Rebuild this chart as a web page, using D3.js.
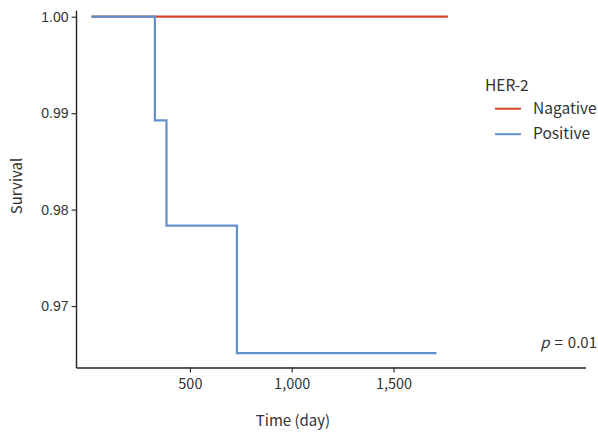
<!DOCTYPE html>
<html><head><meta charset="utf-8">
<script src="https://cdn.jsdelivr.net/npm/d3@7"></script>
<style>body{margin:0;background:#fff}</style>
</head><body>
<svg id="c" width="598" height="433"></svg>
<script>
const negTime = [17, 1767];
const negSurv = [1.0, 1.0];
const posTime = [17, 328, 385, 731, 1711];
const posSurv = [1.0, 0.98925, 0.97834, 0.96512, 0.96512];
const xTicks = [500, 1000, 1500];
const yTicks = [0.97, 0.98, 0.99, 1.00];
const groups = ["Nagative", "Positive"];
const colors = ["#d9442b", "#6290cb"];

const svg = d3.select("#c");
const x = d3.scaleLinear().domain([-57, 2443]).range([76.5, 585.5]);
const y = d3.scaleLinear().domain([0.96363, 1.0]).range([367.5, 16.7]);
const tickFont = "'Liberation Sans', Arial, sans-serif";
const labFont = "'Noto Sans CJK KR', 'Noto Sans', sans-serif";

const xa = svg.append("g").attr("transform", "translate(0,367.5)")
  .call(d3.axisBottom(x).tickValues(xTicks).tickFormat(d3.format(",")).tickSizeInner(5).tickSizeOuter(0).tickPadding(6));
const ya = svg.append("g").attr("transform", "translate(76.5,0)")
  .call(d3.axisLeft(y).tickValues(yTicks).tickFormat(d3.format(".2f")).tickSizeInner(5).tickSizeOuter(0).tickPadding(3));
[xa, ya].forEach(a => {
  a.select(".domain").attr("stroke", "#222").attr("stroke-width", 1.4);
  a.selectAll(".tick line").attr("stroke", "#333").attr("stroke-width", 1.2);
  a.selectAll("text").attr("fill", "#333").style("font-size", "14.5px").style("font-family", labFont);
});
ya.selectAll("text").style("font-family", tickFont).style("font-size", "14px");
ya.select(".domain").attr("d", `M0,${y(1.0)-6}V${367.5+0.7}`);

const line = d3.line().x(d => x(d[0])).y(d => y(d[1])).curve(d3.curveStepAfter);
const series = [d3.zip(negTime, negSurv), d3.zip(posTime, posSurv)];
series.forEach((s, i) => {
  svg.append("path").attr("d", line(s)).attr("fill", "none")
    .attr("stroke", colors[i]).attr("stroke-width", 2.2);
});

svg.append("text").attr("transform", "translate(22,186) rotate(-90)").attr("text-anchor", "middle")
  .style("font-family", labFont).style("font-size", "15px").attr("fill", "#333").text("Survival");
svg.append("text").attr("x", 293).attr("y", 426).attr("text-anchor", "middle")
  .style("font-family", labFont).style("font-size", "15px").attr("fill", "#333").text("Time (day)");

const lg = svg.append("g");
lg.append("text").attr("x", 485).attr("y", 91).style("font-family", labFont).style("font-size", "15.5px")
  .attr("fill", "#333").text("HER-2");
groups.forEach((g, i) => {
  const yy = 108.7 + i * 25.5;
  lg.append("line").attr("x1", 495).attr("x2", 521).attr("y1", yy).attr("y2", yy)
    .attr("stroke", colors[i]).attr("stroke-width", 2);
  lg.append("text").attr("x", 533).attr("y", yy + 5).style("font-family", labFont).style("font-size", "15.5px")
    .attr("fill", "#333").text(g);
});

const pt = svg.append("text").attr("x", 597).attr("y", 348).attr("text-anchor", "end")
  .style("font-family", labFont).style("font-size", "15px").attr("fill", "#333");
pt.append("tspan").style("font-style", "italic").text("p");
pt.append("tspan").attr("dx", 5).text("=");
pt.append("tspan").attr("dx", 5).text("0.01");
</script>
</body></html>
